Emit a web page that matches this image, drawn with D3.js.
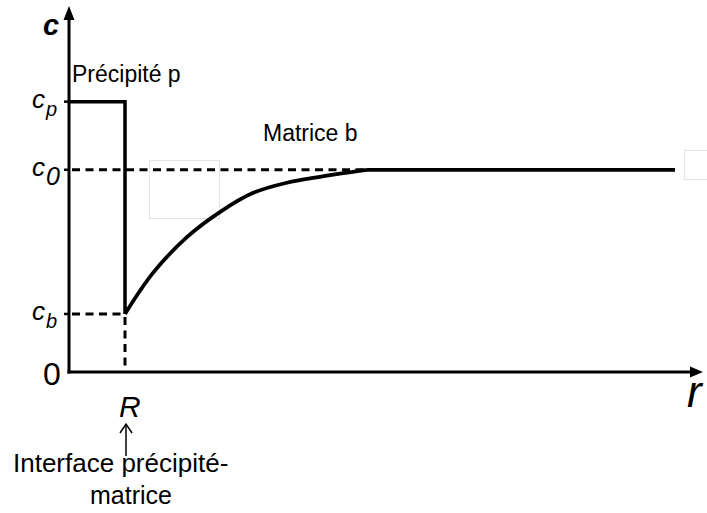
<!DOCTYPE html>
<html>
<head>
<meta charset="utf-8">
<script src="https://cdn.jsdelivr.net/npm/d3@7"></script>
<style>
  html, body { margin: 0; padding: 0; background: #fff; }
  svg { display: block; font-family: "Liberation Sans", Arial, sans-serif; }
</style>
</head>
<body>
<script>
// values (r in units of R, c in units of c0)
const rInterface = 1;
const rMax = 11.32;
const rFlatEnd = 10.82;
const cMax = 1.81;
const cLevels = [1.337, 1.0, 0.287]; // cp, c0, cb
const cLabels = ["p", "0", "b"];
const profileR = [1.0, 1.5, 2.11, 2.7, 3.29, 3.89, 4.48, 5.07, 5.32];
const profileC = [0.287, 0.49, 0.668, 0.792, 0.886, 0.936, 0.965, 0.99, 1.0];

const width = 707, height = 513;
const x = d3.scaleLinear().domain([0, rMax]).range([69, 703]);
const y = d3.scaleLinear().domain([0, cMax]).range([372, 6]);

const svg = d3.select("body").append("svg")
  .attr("width", width).attr("height", height);

// faint leftover boxes in the original figure
svg.append("rect").attr("x", 149.5).attr("y", 160.5).attr("width", 70).attr("height", 58)
  .attr("fill", "none").attr("stroke", "#e4e4e4").attr("stroke-width", 1);
svg.append("rect").attr("x", 684.5).attr("y", 150.5).attr("width", 30).attr("height", 29)
  .attr("fill", "none").attr("stroke", "#e4e4e4").attr("stroke-width", 1);

const [cP, c0, cB] = cLevels;
const profile = profileR.map((r, i) => [r, profileC[i]]);
const rJoin = profileR[profileR.length - 1];

// dashed guides
const dashed = svg.append("g").attr("stroke", "#000").attr("stroke-width", 3)
  .attr("stroke-dasharray", "8,5.5").attr("fill", "none");
dashed.append("line").attr("x1", x(0) + 3).attr("x2", x(rJoin)).attr("y1", y(c0)).attr("y2", y(c0));
dashed.append("line").attr("x1", x(0) + 3).attr("x2", x(rInterface)).attr("y1", y(cB)).attr("y2", y(cB));
dashed.append("line").attr("x1", x(rInterface)).attr("x2", x(rInterface)).attr("y1", y(cB) + 3).attr("y2", y(0));

// axes with arrows
svg.append("line").attr("x1", x(0)).attr("x2", x(0)).attr("y1", y(0) + 1.5).attr("y2", y(cMax) + 10)
  .attr("stroke", "#000").attr("stroke-width", 3);
svg.append("line").attr("x1", x(0) - 1.5).attr("x2", x(rMax) - 10).attr("y1", y(0)).attr("y2", y(0))
  .attr("stroke", "#000").attr("stroke-width", 3);
svg.append("path")
  .attr("d", `M${x(0)},${y(cMax)} L${x(0) - 5.5},${y(cMax) + 14} L${x(0) + 5.5},${y(cMax) + 14} Z`)
  .attr("fill", "#000");
svg.append("path")
  .attr("d", `M${x(rMax)},${y(0)} L${x(rMax) - 13},${y(0) - 5.5} L${x(rMax) - 13},${y(0) + 5.5} Z`)
  .attr("fill", "#000");

// ticks on the c axis
svg.append("g").selectAll("line").data(cLevels).join("line")
  .attr("x1", x(0) - 5).attr("x2", x(0)).attr("y1", d => y(d)).attr("y2", d => y(d))
  .attr("stroke", "#000").attr("stroke-width", 2.5);

// precipitate plateau
svg.append("path")
  .attr("d", d3.line()([[x(0), y(cP)], [x(rInterface), y(cP)], [x(rInterface), y(cB)]]))
  .attr("fill", "none").attr("stroke", "#000").attr("stroke-width", 3.5).attr("stroke-linejoin", "miter");

// matrix profile
const line = d3.line().x(d => x(d[0])).y(d => y(d[1])).curve(d3.curveCatmullRom.alpha(0.5));
svg.append("path").attr("d", line(profile))
  .attr("fill", "none").attr("stroke", "#000").attr("stroke-width", 3.8);
svg.append("line").attr("x1", x(rJoin)).attr("x2", x(rFlatEnd)).attr("y1", y(c0)).attr("y2", y(c0))
  .attr("stroke", "#000").attr("stroke-width", 3.8);

// labels of c levels
const lab = svg.append("g").selectAll("text").data(cLevels).join("text")
  .attr("x", 32).attr("y", d => y(d) + 6)
  .attr("font-size", 26).attr("font-style", "italic");
lab.append("tspan").text("c");
lab.append("tspan").attr("dx", 1).attr("dy", (d, i) => i === 1 ? 9 : 8)
  .attr("font-size", (d, i) => i === 1 ? 25 : 20).text((d, i) => cLabels[i]);

svg.append("text").attr("x", 43).attr("y", 35).attr("font-size", 29)
  .attr("font-weight", "bold").attr("font-style", "italic").text("c");
svg.append("text").attr("x", 43).attr("y", 385).attr("font-size", 32).text("0");
svg.append("text").attr("x", 119).attr("y", 417).attr("font-size", 30)
  .attr("font-style", "italic").text("R");
svg.append("text").attr("x", 687).attr("y", 407).attr("font-size", 44)
  .attr("font-style", "italic").text("r");

svg.append("text").attr("x", 72).attr("y", 82).attr("font-size", 23).text("Précipité p");
svg.append("text").attr("x", 263).attr("y", 141).attr("font-size", 23).text("Matrice b");

// interface pointer
svg.append("line").attr("x1", x(rInterface) + 1).attr("x2", x(rInterface) + 1).attr("y1", 424).attr("y2", 456)
  .attr("stroke", "#000").attr("stroke-width", 1.5);
svg.append("path").attr("d", `M${x(rInterface) - 5},${433} L${x(rInterface) + 1},${424} L${x(rInterface) + 7},${433}`)
  .attr("fill", "none").attr("stroke", "#000").attr("stroke-width", 1.5);
svg.append("text").attr("x", 13).attr("y", 472).attr("font-size", 26).text("Interface précipité-");
svg.append("text").attr("x", 90).attr("y", 504).attr("font-size", 25).text("matrice");
</script>
</body>
</html>
